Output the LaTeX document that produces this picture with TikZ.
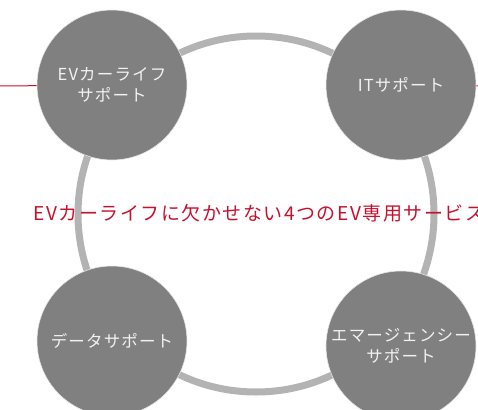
\documentclass[tikz,border=0pt]{standalone}
\usepackage{fontspec}
\usetikzlibrary{positioning}
\setmainfont{Noto Sans CJK JP}
\newfontfamily\jpfont[LetterSpace=7]{Noto Sans CJK JP}
\newfontfamily\headfont[LetterSpace=8]{Noto Sans CJK JP}
\definecolor{ringgray}{HTML}{B3B3B3}
\definecolor{discgray}{HTML}{808080}
\definecolor{evred}{HTML}{C8102E}

\begin{document}
\begin{tikzpicture}[x=1pt, y=-1pt,
  disc/.style={circle, fill=discgray, draw=white!80!discgray, line width=0.6pt,
    minimum size=150pt, inner sep=0pt, align=center, text=white!95!black,
    font=\jpfont\fontsize{16.5}{21}\selectfont},
  redline/.style={draw=evred, line width=1pt}]
\useasboundingbox (0,0) rectangle (478,409);
% Ring behind the services
\draw[ringgray, line width=7pt] (256,214) circle [radius=178pt];
% Four services
\node[disc] (evlife) at (112,85) {EVカーライフ\\サポート};
\node[disc] (itsupport) at (401,85) {ITサポート};
\node[disc] (datasupport) at (112,341) {データサポート};
\node[disc] (emergency) at (401,346) {エマージェンシー\\サポート};
% Red rules at the page edges
\coordinate (leftedge) at (0,86);
\coordinate (rightedge) at (478,86);
\draw[redline] (leftedge) -- (evlife);
\draw[redline] (itsupport) -- (rightedge);
% Heading (runs past the right edge, as in the original)
\node[anchor=west, text=evred, font=\headfont\fontsize{19}{22}\selectfont] (heading) at (30,213)
  {EVカーライフに欠かせない4つのEV専用サービス};
\end{tikzpicture}
\end{document}
